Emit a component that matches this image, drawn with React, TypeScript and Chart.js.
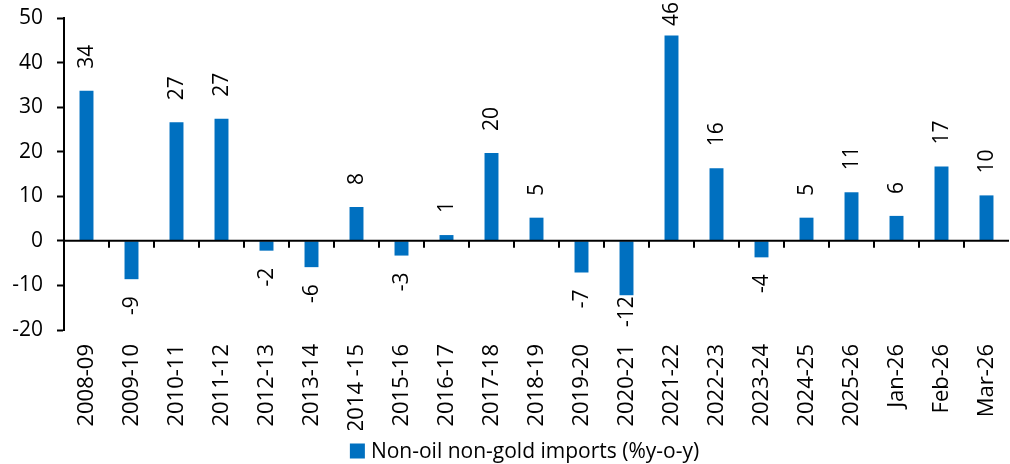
import React, { useEffect, useRef } from "react";
import { Chart, registerables } from "chart.js";

Chart.register(...registerables);

const categories = [
  "2008-09", "2009-10", "2010-11", "2011-12", "2012-13", "2013-14", "2014 -15",
  "2015-16", "2016-17", "2017-18", "2018-19", "2019-20", "2020-21", "2021-22",
  "2022-23", "2023-24", "2024-25", "2025-26", "Jan-26", "Feb-26", "Mar-26",
];
const importsGrowth = [
  33.7, -8.6, 26.6, 27.4, -2.2, -5.9, 7.6, -3.3, 1.3, 19.7, 5.2, -7.1, -12.2,
  46.1, 16.3, -3.7, 5.2, 10.9, 5.6, 16.7, 10.2,
];
const seriesLabel = "Non-oil non-gold imports (%y-o-y)";
const yTicks = [50, 40, 30, 20, 10, 0, -10, -20];

const FONT = "'Open Sans', sans-serif";
const BAR_COLOR = "#0070C0";

const decorPlugin = {
  id: "decor",
  afterDatasetsDraw(chart: any) {
    const ctx = chart.ctx;
    const x = chart.scales.x;
    const y = chart.scales.y;
    const area = chart.chartArea;
    const y0 = y.getPixelForValue(0);
    ctx.save();
    // zero line
    ctx.strokeStyle = "#000";
    ctx.lineWidth = 2;
    ctx.beginPath();
    ctx.moveTo(area.left, y0);
    ctx.lineTo(area.right, y0);
    ctx.stroke();
    // category boundary ticks
    const n = categories.length;
    for (let i = 1; i < n; i++) {
      const bx = (x.getPixelForTick(i - 1) + x.getPixelForTick(i)) / 2;
      ctx.beginPath();
      ctx.moveTo(Math.round(bx), y0);
      ctx.lineTo(Math.round(bx), y0 + 7);
      ctx.stroke();
    }
    // data labels
    ctx.fillStyle = "#000";
    ctx.font = `21px ${FONT}`;
    ctx.textBaseline = "middle";
    ctx.textAlign = "left";
    const meta = chart.getDatasetMeta(0);
    meta.data.forEach((bar: any, i: number) => {
      const v = importsGrowth[i];
      const txt = String(Math.round(v));
      const w = ctx.measureText(txt).width;
      let start: number;
      if (v >= 0) {
        start = bar.y - 22;
        if (start - w < 2) start = 2 + w;
      } else {
        start = bar.y + 17 + w;
        if (start > area.bottom - 3) start = area.bottom - 3;
      }
      ctx.save();
      ctx.translate(bar.x, start);
      ctx.rotate(-Math.PI / 2);
      ctx.fillText(txt, 0, 1);
      ctx.restore();
    });
    // legend
    const box = 15;
    const gap = 6;
    const tw = ctx.measureText(seriesLabel).width;
    const total = box + gap + tw;
    const cx = (area.left + area.right) / 2 - 12;
    const lx = cx - total / 2;
    const ly = chart.height - 12;
    ctx.fillStyle = BAR_COLOR;
    ctx.fillRect(lx, ly - box / 2 - 1, box, box);
    ctx.fillStyle = "#000";
    ctx.fillText(seriesLabel, lx + box + gap, ly);
    ctx.restore();
  },
};

export default function App() {
  const ref = useRef<HTMLCanvasElement>(null);
  useEffect(() => {
    document.body.style.margin = "0";
    const chart = new Chart(ref.current as HTMLCanvasElement, {
      type: "bar",
      data: {
        labels: categories,
        datasets: [
          {
            label: seriesLabel,
            data: importsGrowth,
            backgroundColor: BAR_COLOR,
            borderWidth: 0,
            barPercentage: 0.31,
            categoryPercentage: 1,
          },
        ],
      },
      options: {
        animation: false,
        responsive: false,
        maintainAspectRatio: false,
        layout: { padding: { top: 18, right: 1, bottom: 34, left: 0 } },
        plugins: {
          legend: { display: false },
          tooltip: { enabled: false },
        },
        scales: {
          x: {
            grid: { display: false, drawTicks: false },
            border: { display: false },
            ticks: {
              minRotation: 90,
              maxRotation: 90,
              autoSkip: false,
              padding: 14,
              color: "#000",
              font: { family: FONT, size: 22 },
            },
            afterFit(scale: any) {
              scale.height = 100;
              scale.paddingLeft = 0;
              scale.paddingRight = 0;
            },
          },
          y: {
            min: -20,
            max: 50,
            afterBuildTicks(scale: any) {
              scale.ticks = yTicks.map((v) => ({ value: v }));
            },
            grid: {
              display: true,
              drawOnChartArea: false,
              drawTicks: true,
              tickLength: 7,
              tickWidth: 2,
              tickColor: "#000",
            },
            border: { display: true, color: "#000", width: 2 },
            ticks: {
              padding: 14,
              color: "#000",
              font: { family: FONT, size: 21 },
            },
            afterFit(scale: any) {
              scale.width = 64;
              scale.paddingTop = 0;
              scale.paddingBottom = 0;
            },
          },
        },
      },
      plugins: [decorPlugin],
    });
    return () => chart.destroy();
  }, []);
  return (
    <div style={{ width: 1010, height: 464 }}>
      <canvas ref={ref} width={1010} height={464} />
    </div>
  );
}
